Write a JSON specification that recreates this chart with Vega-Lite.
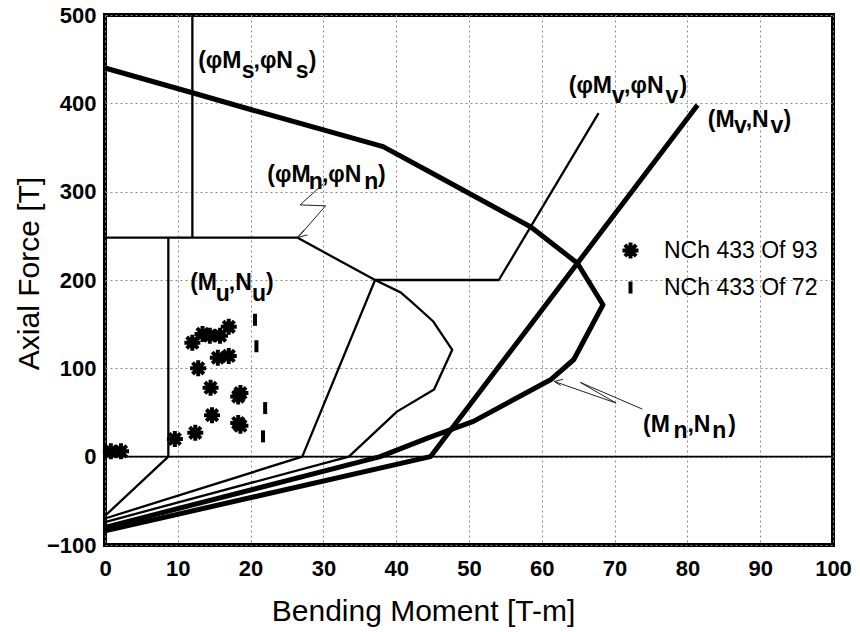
{
  "$schema": "https://vega.github.io/schema/vega-lite/v6.json",
  "width": 728,
  "height": 530,
  "autosize": {"type": "none"},
  "padding": {"left": 105, "top": 15, "right": 27, "bottom": 87},
  "background": "white",
  "config": {
    "font": "Liberation Sans",
    "view": {"stroke": "black", "strokeWidth": 4},
    "axis": {
      "grid": true,
      "gridColor": "#8a8a8a",
      "gridDash": [2, 3],
      "gridWidth": 1,
      "domain": false,
      "ticks": false,
      "labelFont": "Liberation Sans",
      "labelFontSize": 22,
      "labelFontWeight": "bold",
      "labelColor": "black",
      "labelFlush": false,
      "titleFont": "Liberation Sans",
      "titleFontSize": 30,
      "titleFontWeight": "normal",
      "titleColor": "black"
    },
    "legend": {
      "orient": "none",
      "legendX": 514,
      "legendY": 224,
      "padding": 0,
      "labelFont": "Liberation Sans",
      "labelFontSize": 23,
      "labelColor": "black",
      "labelOffset": 22,
      "rowPadding": 6,
      "symbolSize": 256,
      "symbolStrokeWidth": 4,
      "symbolStrokeColor": "black",
      "symbolFillColor": "transparent"
    }
  },
  "datasets": {
    "curves": [
      {"s": "Mn", "i": 0, "x": 0, "y": 440},
      {"s": "Mn", "i": 1, "x": 12, "y": 412},
      {"s": "Mn", "i": 2, "x": 20, "y": 393},
      {"s": "Mn", "i": 3, "x": 38.2, "y": 351},
      {"s": "Mn", "i": 4, "x": 44.7, "y": 322},
      {"s": "Mn", "i": 5, "x": 58.5, "y": 260},
      {"s": "Mn", "i": 6, "x": 64.9, "y": 219},
      {"s": "Mn", "i": 7, "x": 68.4, "y": 172},
      {"s": "Mn", "i": 8, "x": 64.4, "y": 110},
      {"s": "Mn", "i": 9, "x": 61.2, "y": 87},
      {"s": "Mn", "i": 10, "x": 50.6, "y": 40},
      {"s": "Mn", "i": 11, "x": 44.3, "y": 21},
      {"s": "Mn", "i": 12, "x": 37.8, "y": 0},
      {"s": "Mn", "i": 13, "x": 0, "y": -80},
      {"s": "Mv", "i": 0, "x": 81.4, "y": 398},
      {"s": "Mv", "i": 1, "x": 44.7, "y": 0},
      {"s": "Mv", "i": 2, "x": 0, "y": -84},
      {"s": "phiMn", "i": 0, "x": 0, "y": 248},
      {"s": "phiMn", "i": 1, "x": 26.4, "y": 248},
      {"s": "phiMn", "i": 2, "x": 37.1, "y": 200},
      {"s": "phiMn", "i": 3, "x": 40.6, "y": 186},
      {"s": "phiMn", "i": 4, "x": 42, "y": 176},
      {"s": "phiMn", "i": 5, "x": 45.1, "y": 153},
      {"s": "phiMn", "i": 6, "x": 47.7, "y": 121},
      {"s": "phiMn", "i": 7, "x": 45.2, "y": 76},
      {"s": "phiMn", "i": 8, "x": 40.1, "y": 51},
      {"s": "phiMn", "i": 9, "x": 33.5, "y": 0},
      {"s": "phiMn", "i": 10, "x": 0, "y": -74},
      {"s": "phiMv", "i": 0, "x": 67.8, "y": 389},
      {"s": "phiMv", "i": 1, "x": 54.1, "y": 200},
      {"s": "phiMv", "i": 2, "x": 37.1, "y": 200},
      {"s": "phiMv", "i": 3, "x": 27.1, "y": 0},
      {"s": "phiMv", "i": 4, "x": 0, "y": -70},
      {"s": "phiMs", "i": 0, "x": 12, "y": 500},
      {"s": "phiMs", "i": 1, "x": 12, "y": 248},
      {"s": "Mu", "i": 0, "x": 8.7, "y": 248},
      {"s": "Mu", "i": 1, "x": 8.7, "y": 0},
      {"s": "Mu", "i": 2, "x": 0, "y": -67},
      {"s": "zero", "i": 0, "x": 0, "y": 0},
      {"s": "zero", "i": 1, "x": 100, "y": 0},
      {"s": "arr1", "i": 0, "x": 30.0, "y": 309},
      {"s": "arr1", "i": 1, "x": 26.8, "y": 285},
      {"s": "arr1", "i": 2, "x": 30.3, "y": 284},
      {"s": "arr1", "i": 3, "x": 26.6, "y": 249},
      {"s": "arr1h", "i": 0, "x": 27.4, "y": 257},
      {"s": "arr1h", "i": 1, "x": 26.4, "y": 248},
      {"s": "arr1h", "i": 2, "x": 27.8, "y": 251},
      {"s": "arr2", "i": 0, "x": 73.8, "y": 53.9},
      {"s": "arr2", "i": 1, "x": 65.3, "y": 84},
      {"s": "arr2", "i": 2, "x": 70.2, "y": 60.7},
      {"s": "arr2", "i": 3, "x": 61.7, "y": 85.2},
      {"s": "arr2h", "i": 0, "x": 62.9, "y": 87.5},
      {"s": "arr2h", "i": 1, "x": 61.7, "y": 85.2},
      {"s": "arr2h", "i": 2, "x": 62.6, "y": 80.5}
    ],
    "pts": [
      {"src": "NCh 433 Of 93", "x": 9.6, "y": 20},
      {"src": "NCh 433 Of 93", "x": 12.4, "y": 27},
      {"src": "NCh 433 Of 93", "x": 14.7, "y": 47},
      {"src": "NCh 433 Of 93", "x": 14.5, "y": 78},
      {"src": "NCh 433 Of 93", "x": 12.8, "y": 100},
      {"src": "NCh 433 Of 93", "x": 15.5, "y": 112},
      {"src": "NCh 433 Of 93", "x": 17.0, "y": 114},
      {"src": "NCh 433 Of 93", "x": 12.0, "y": 129},
      {"src": "NCh 433 Of 93", "x": 13.4, "y": 139},
      {"src": "NCh 433 Of 93", "x": 14.4, "y": 137},
      {"src": "NCh 433 Of 93", "x": 15.8, "y": 137},
      {"src": "NCh 433 Of 93", "x": 17.0, "y": 147},
      {"src": "NCh 433 Of 93", "x": 18.3, "y": 68},
      {"src": "NCh 433 Of 93", "x": 18.6, "y": 72},
      {"src": "NCh 433 Of 93", "x": 18.3, "y": 38},
      {"src": "NCh 433 Of 93", "x": 18.6, "y": 35},
      {"src": "NCh 433 Of 93", "x": 0.8, "y": 6},
      {"src": "NCh 433 Of 93", "x": 2.2, "y": 6},
      {"src": "NCh 433 Of 72", "x": 20.6, "y": 155},
      {"src": "NCh 433 Of 72", "x": 20.8, "y": 125},
      {"src": "NCh 433 Of 72", "x": 22.0, "y": 55},
      {"src": "NCh 433 Of 72", "x": 21.7, "y": 23}
    ],
    "labels": [
      {"x": 12.8, "y": 440, "t": "(φM"},
      {"x": 18.8, "y": 429, "t": "s"},
      {"x": 20.4, "y": 440, "t": ",φN"},
      {"x": 26.2, "y": 429, "t": "s"},
      {"x": 28.0, "y": 440, "t": ")"},
      {"x": 22.3, "y": 311, "t": "(φM"},
      {"x": 28.0, "y": 303, "t": "n"},
      {"x": 29.8, "y": 311, "t": ",φN"},
      {"x": 35.6, "y": 303, "t": "n"},
      {"x": 37.5, "y": 311, "t": ")"},
      {"x": 11.7, "y": 189, "t": "(M"},
      {"x": 15.2, "y": 176.5, "t": "u"},
      {"x": 17.0, "y": 189, "t": ",N"},
      {"x": 20.2, "y": 176.5, "t": "u"},
      {"x": 22.1, "y": 189, "t": ")"},
      {"x": 63.7, "y": 411.8, "t": "(φM"},
      {"x": 69.6, "y": 400.5, "t": "v"},
      {"x": 71.3, "y": 411.8, "t": ",φN"},
      {"x": 77.0, "y": 400.5, "t": "v"},
      {"x": 78.9, "y": 411.8, "t": ")"},
      {"x": 82.8, "y": 373, "t": "(M"},
      {"x": 86.4, "y": 366.5, "t": "v"},
      {"x": 88.0, "y": 373, "t": ",N"},
      {"x": 91.4, "y": 366.5, "t": "v"},
      {"x": 93.2, "y": 373, "t": ")"},
      {"x": 73.9, "y": 28.3, "t": "(M"},
      {"x": 78.1, "y": 21.5, "t": "n"},
      {"x": 80.0, "y": 28.3, "t": ",N"},
      {"x": 83.4, "y": 21.5, "t": "n"},
      {"x": 85.6, "y": 28.3, "t": ")"}
    ]
  },
  "encoding": {
    "x": {
      "field": "x", "type": "quantitative",
      "scale": {"domain": [0, 100], "nice": false, "zero": false},
      "axis": {
        "values": [0, 10, 20, 30, 40, 50, 60, 70, 80, 90, 100],
        "labelPadding": 13,
        "title": "Bending Moment [T-m]",
        "titleX": 318,
        "titleY": 75,
        "titleBaseline": "alphabetic"
      }
    },
    "y": {
      "field": "y", "type": "quantitative",
      "scale": {"domain": [-100, 500], "nice": false, "zero": false},
      "axis": {
        "values": [-100, 0, 100, 200, 300, 400, 500],
        "labelPadding": 9,
        "title": "Axial Force [T]",
        "titleX": -67,
        "titleY": 258,
        "titleBaseline": "alphabetic"
      }
    }
  },
  "layer": [
    {
      "data": {"name": "curves"},
      "transform": [{"filter": {"field": "s", "oneOf": ["zero"]}}],
      "mark": {"type": "line", "color": "black", "strokeWidth": 1.6},
      "encoding": {"detail": {"field": "s", "type": "nominal"}, "order": {"field": "i", "type": "quantitative"}}
    },
    {
      "data": {"name": "curves"},
      "transform": [{"filter": {"field": "s", "oneOf": ["arr1", "arr1h", "arr2", "arr2h"]}}],
      "mark": {"type": "line", "color": "#222222", "strokeWidth": 1},
      "encoding": {"detail": {"field": "s", "type": "nominal"}, "order": {"field": "i", "type": "quantitative"}}
    },
    {
      "data": {"name": "curves"},
      "transform": [{"filter": {"field": "s", "oneOf": ["phiMn", "phiMv", "phiMs", "Mu"]}}],
      "mark": {"type": "line", "color": "black", "strokeWidth": 2.3, "strokeJoin": "round"},
      "encoding": {"detail": {"field": "s", "type": "nominal"}, "order": {"field": "i", "type": "quantitative"}}
    },
    {
      "data": {"name": "curves"},
      "transform": [{"filter": {"field": "s", "oneOf": ["Mn", "Mv"]}}],
      "mark": {"type": "line", "color": "black", "strokeWidth": 5, "strokeJoin": "round"},
      "encoding": {"detail": {"field": "s", "type": "nominal"}, "order": {"field": "i", "type": "quantitative"}}
    },
    {
      "data": {"name": "pts"},
      "mark": {"type": "point", "filled": false, "stroke": "black", "strokeWidth": 4, "size": 256, "opacity": 1},
      "encoding": {
        "shape": {
          "field": "src", "type": "nominal",
          "scale": {
            "domain": ["NCh 433 Of 93", "NCh 433 Of 72"],
            "range": ["M-1,0L1,0M0,-1L0,1M-0.71,-0.71L0.71,0.71M-0.71,0.71L0.71,-0.71", "M0,-0.75L0,0.75"]
          },
          "legend": {"title": null}
        }
      }
    },
    {
      "data": {"name": "labels"},
      "mark": {"type": "text", "align": "left", "baseline": "alphabetic", "font": "Liberation Sans", "fontSize": 23, "fontWeight": "bold", "color": "black"},
      "encoding": {
        "text": {"field": "t", "type": "nominal"}
      }
    }
  ]
}
